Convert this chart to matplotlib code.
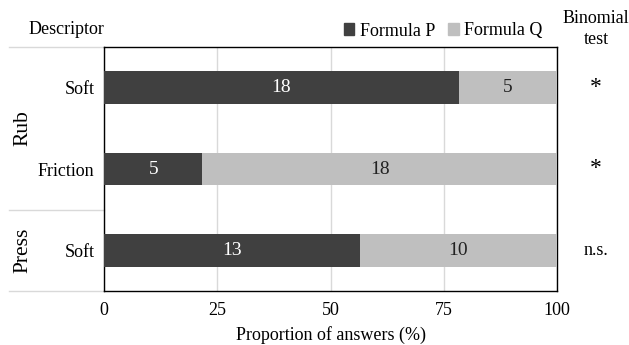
import matplotlib
matplotlib.use("Agg")
import matplotlib.pyplot as plt
from matplotlib.patches import Rectangle

plt.rcParams['font.family'] = ['Liberation Serif', 'DejaVu Serif']

descriptors = ["Soft", "Friction", "Soft"]
actions = ["Rub", "Press"]
count_p = [18, 5, 13]
count_q = [5, 18, 10]
significance = ["*", "*", "n.s."]

totals = [p + q for p, q in zip(count_p, count_q)]
pct_p = [100 * p / t for p, t in zip(count_p, totals)]
pct_q = [100 * q / t for q, t in zip(count_q, totals)]

dark = "#404040"
light = "#bfbfbf"
fs = 13

fig = plt.figure(figsize=(6.29, 3.45), dpi=100)
ax = fig.add_axes([104 / 629, 1 - 291 / 345, (557 - 104) / 629, (291 - 47) / 345])

ypos = list(range(len(descriptors)))
ax.barh(ypos, pct_p, height=0.4, color=dark, zorder=3)
ax.barh(ypos, pct_q, left=pct_p, height=0.4, color=light, zorder=3)

for y, p, q, cp, cq in zip(ypos, pct_p, pct_q, count_p, count_q):
    ax.text(p / 2, y, str(cp), ha="center", va="center", color="white", fontsize=fs + 1, zorder=4)
    ax.text(p + q / 2, y, str(cq), ha="center", va="center", color="#222222", fontsize=fs + 1, zorder=4)

ax.set_xlim(0, 100)
ax.set_ylim(2.5, -0.5)
ax.set_xticks([0, 25, 50, 75, 100])
ax.tick_params(axis="x", length=0, labelsize=fs, pad=8)
ax.set_yticks(ypos)
ax.set_yticklabels(descriptors)
ax.tick_params(axis="y", length=0, labelsize=fs, pad=7)
ax.xaxis.grid(True, color="#d9d9d9", linewidth=1, zorder=0)
ax.set_axisbelow(True)
for s in ax.spines.values():
    s.set_color("black")
    s.set_linewidth(1)
ax.set_xlabel("Proportion of answers (%)", fontsize=fs, labelpad=5)

# group separators and group labels on the left
trans = ax.get_yaxis_transform()
x0 = (9 - 104) / (557 - 104)
for yy in [-0.5, 1.5, 2.5]:
    ax.plot([x0, 0], [yy, yy], transform=trans, color="#d9d9d9", lw=1, clip_on=False)
ax.text((23 - 104) / (557 - 104), 0.5, actions[0], transform=trans, rotation=90,
        ha="center", va="center", fontsize=fs + 2.5)
ax.text((23 - 104) / (557 - 104), 2.0, actions[1], transform=trans, rotation=90,
        ha="center", va="center", fontsize=fs + 2.5)

# significance column
xs = (596 - 104) / (557 - 104)
for y, s in zip(ypos, significance):
    ax.text(xs, y, s, transform=trans, ha="center", va="center",
            fontsize=fs + 4 if s == "*" else fs)

fig.text(29 / 629, 1 - 30 / 345, "Descriptor", ha="left", va="center", fontsize=fs)
fig.text(596 / 629, 1 - 29 / 345, "Binomial\ntest", ha="center", va="center",
         fontsize=fs, linespacing=1.35)

# legend
handles = [Rectangle((0, 0), 1, 1, color=dark), Rectangle((0, 0), 1, 1, color=light)]
fig.legend(handles, ["Formula P", "Formula Q"], loc="center", bbox_to_anchor=(443 / 629, 1 - 31 / 345),
           ncol=2, frameon=False, fontsize=fs, handlelength=0.6, handleheight=0.6,
           handletextpad=0.3, columnspacing=0.7)

fig.savefig("out.png", dpi=100)
